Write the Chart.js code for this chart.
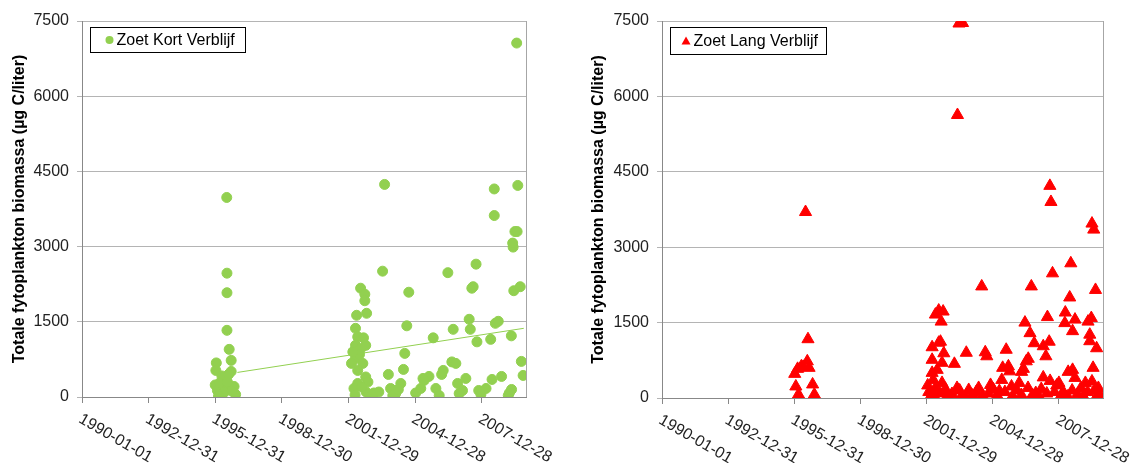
<!DOCTYPE html>
<html>
<head>
<meta charset="utf-8">
<script src="https://cdn.jsdelivr.net/npm/chart.js@4"></script>
<style>
  body { margin: 0; background: #fff; width: 1140px; height: 463px; overflow: hidden; }
  canvas { position: absolute; top: 0; }
</style>
</head>
<body>
<canvas id="kort" width="570" height="463" style="left:0"></canvas>
<canvas id="lang" width="570" height="463" style="left:570px"></canvas>
<script>
// x axis: decimal years, tick labels as printed
const tickYears = [1990, 1993, 1996, 1999, 2002, 2005, 2008];
const tickLabels = ['1990-01-01', '1992-12-31', '1995-12-31', '1998-12-30', '2001-12-29', '2004-12-28', '2007-12-28'];

// Zoet Kort Verblijf
const kortYears = [
  1996.52, 1996.53, 1996.53, 1996.53, 1996.63, 1996.72, 1996.72, 1996.05, 1996.03, 1996.30, 1996.00,
  1996.10, 1996.30, 1996.45, 1996.85, 1996.92, 1996.20, 1996.60, 1996.40, 1996.75, 1996.15, 1996.55,
  2003.63, 2003.54, 2002.55, 2002.74, 2002.74, 2002.37, 2002.82, 2002.32, 2002.42, 2002.32, 2002.78,
  2002.32, 2002.55, 2002.65, 2002.42, 2002.78, 2002.42, 2002.88, 2002.25, 2002.80, 2003.15, 2003.37,
  2003.80, 2003.90, 2004.13, 2004.36, 2004.48, 2004.54, 2004.63, 2004.72, 2005.03, 2005.36, 2002.14,
  2002.50, 2002.68, 2002.20, 2002.60, 2002.95, 2003.05, 2002.30, 2004.00, 2004.25,
  2008.57, 2008.57, 2006.48, 2007.75, 2007.62, 2007.56, 2007.44, 2007.49, 2006.72, 2005.82, 2007.79,
  2008.41, 2008.62, 2008.75, 2006.66, 2006.84, 2006.27, 2006.20, 2005.63, 2005.41, 2005.26, 2005.94,
  2006.09, 2006.92, 2007.29, 2007.14, 2006.99, 2007.87, 2008.20, 2008.47, 2007.97, 2008.90,
  2009.34, 2009.42, 2009.40, 2009.50, 2009.60, 2009.58, 2009.63, 2009.45, 2009.74, 2009.79, 2009.87,
  2009.20, 2009.35, 2009.25
];
const kortValues = [
  3980, 2470, 2080, 1330, 950, 730, 510, 680, 530, 420, 240,
  130, 60, 180, 210, 50, 280, 450, 90, 120, 20, 300,
  4240, 2510, 2170, 2050, 1920, 1630, 1670, 1370, 1200, 1030, 1030,
  770, 960, 670, 530, 400, 270, 300, 170, 100, 80, 100,
  450, 170, 70, 270, 550, 870, 1420, 2090, 80, 370, 670,
  850, 1180, 900, 200, 50, 30, 40, 30, 150,
  4150, 3620, 2480, 2650, 2200, 2170, 1550, 1350, 1350, 1180, 1100,
  1150, 1470, 1510, 700, 670, 530, 450, 410, 330, 170, 170,
  30, 270, 370, 130, 70, 130, 170, 350, 50, 410,
  1220, 2990, 3070, 3300, 3300, 7060, 4220, 2120, 2200, 710, 430,
  30, 150, 80
];
// linear trendline through Zoet Kort Verblijf
const trendYears = [1997.0, 2009.9];
const trendValues = [490, 1370];

// Zoet Lang Verblijf
const langYears = [
  1996.51, 1996.62, 1996.02, 1996.15, 1996.40, 1996.32, 1996.59, 1996.67, 1996.07, 1996.19, 1996.83, 1996.91,
  2003.47, 2003.63, 2003.40, 2002.55, 2002.75, 2002.66, 2002.40, 2002.63, 2002.25, 2002.78, 2002.25,
  2002.70, 2002.55, 2002.25, 2002.48, 2002.30, 2002.70, 2002.18, 2002.10, 2002.40, 2002.60, 2002.85,
  2002.95, 2003.26, 2003.80, 2003.38, 2003.15, 2003.60, 2003.91, 2003.75, 2004.05, 2004.36, 2004.50,
  2004.66, 2004.73, 2004.25, 2004.55, 2004.80, 2005.03, 2005.20, 2005.41, 2005.45, 2005.61, 2005.71,
  2005.77, 2005.55, 2005.90, 2006.10, 2006.31, 2006.39, 2006.46, 2006.52, 2006.61, 2006.69, 2006.75,
  2006.88, 2006.30, 2006.60, 2006.95, 2007.10, 2007.29, 2007.29, 2007.41, 2007.48, 2007.56, 2007.60,
  2007.59, 2007.64, 2007.71, 2007.80, 2007.90, 2008.00, 2008.10, 2008.27, 2008.29, 2008.42, 2008.49,
  2008.54, 2008.62, 2008.62, 2008.73, 2008.73, 2008.60, 2008.85, 2009.00, 2009.10, 2009.20, 2009.32,
  2009.40, 2009.40, 2009.47, 2009.50, 2009.58, 2009.55, 2009.50, 2009.66, 2009.71, 2009.79, 2009.75, 2009.30,
  2002.05, 2002.35, 2002.90, 2003.50, 2004.15, 2004.90, 2005.30, 2005.85, 2006.20, 2006.80, 2007.20, 2007.45,
  2008.20, 2008.40, 2009.60, 2009.85
];
const langValues = [
  3700, 1170, 480, 580, 620, 630, 730, 600, 230, 70, 270, 70,
  7450, 7460, 5630, 1740, 1720, 1520, 1660, 1120, 1010, 890, 760,
  700, 1100, 500, 560, 360, 300, 30, 120, 200, 100, 180,
  40, 680, 900, 200, 80, 50, 160, 30, 60, 200, 2220,
  910, 830, 120, 40, 90, 170, 50, 360, 600, 960, 630,
  530, 120, 40, 150, 520, 580, 1500, 730, 780, 1290, 2220,
  1090, 60, 200, 100, 30, 1030, 410, 830, 1610, 1120, 340,
  4220, 3900, 2480, 120, 250, 300, 50, 1490, 1700, 520, 2000,
  2680, 1330, 560, 1560, 400, 150, 80, 200, 40, 300, 1520,
  1260, 1130, 1590, 3470, 3350, 600, 330, 2150, 990, 200, 60, 120,
  250, 40, 90, 150, 30, 260, 140, 230, 300, 60, 180, 90,
  120, 30, 150, 90
];

const FONT = 'Arial, "Liberation Sans", sans-serif';
const GREEN = '#92d050';
const RED = '#ff0000';
const yTitle = 'Totale fytoplankton biomassa (µg C/liter)';

const toPoints = (xs, ys) => xs.map((x, i) => ({ x: x, y: ys[i] }));

// draws right frame edge, the rotated date labels and the in-plot legend box
const decorations = {
  id: 'decorations',
  afterDraw(chart, args, opts) {
    const { ctx, chartArea: a } = chart;
    const xs = chart.scales.x;
    ctx.save();
    ctx.strokeStyle = '#a6a6a6';
    ctx.lineWidth = 1;
    ctx.beginPath();
    ctx.moveTo(Math.round(a.right) + 0.5, a.top);
    ctx.lineTo(Math.round(a.right) + 0.5, a.bottom);
    ctx.stroke();

    ctx.fillStyle = '#222';
    ctx.font = '16px ' + FONT;
    ctx.textAlign = 'left';
    ctx.textBaseline = 'middle';
    tickYears.forEach((t, i) => {
      ctx.save();
      ctx.translate(xs.getPixelForValue(t) - 2, a.bottom + 21);
      ctx.rotate(Math.PI / 6);
      ctx.fillText(tickLabels[i], 0, 0);
      ctx.restore();
    });

    const bx = Math.round(a.left + opts.dx) + 0.5;
    const by = Math.round(a.top + opts.dy) + 0.5;
    ctx.fillStyle = '#fff';
    ctx.fillRect(bx, by, opts.w, opts.h);
    ctx.strokeStyle = '#000';
    ctx.strokeRect(bx, by, opts.w, opts.h);
    const my = by + opts.h / 2;
    ctx.fillStyle = opts.color;
    ctx.beginPath();
    if (opts.marker === 'circle') {
      ctx.arc(bx + opts.mx, my, 4, 0, Math.PI * 2);
    } else {
      ctx.moveTo(bx + opts.mx, my - 4.5);
      ctx.lineTo(bx + opts.mx + 4.5, my + 3.5);
      ctx.lineTo(bx + opts.mx - 4.5, my + 3.5);
      ctx.closePath();
    }
    ctx.fill();
    ctx.fillStyle = '#000';
    ctx.font = '16px ' + FONT;
    ctx.fillText(opts.label, bx + opts.tx, my + 1);
    ctx.restore();
  }
};

function makeChart(id, datasets, dims, legend) {
  return new Chart(document.getElementById(id), {
    type: 'scatter',
    data: { datasets: datasets },
    options: {
      responsive: false,
      animation: false,
      layout: { padding: { top: dims.top, right: dims.right, left: 0, bottom: 0 } },
      plugins: {
        legend: { display: false },
        tooltip: { enabled: false },
        decorations: legend
      },
      scales: {
        x: {
          type: 'linear',
          min: 1990,
          max: 2010,
          afterBuildTicks: s => { s.ticks = tickYears.map(v => ({ value: v })); },
          afterFit: s => { s.height = dims.bottom; },
          ticks: { display: false },
          grid: { drawOnChartArea: false, tickLength: 6, color: '#888' },
          border: { color: '#888' }
        },
        y: {
          min: 0,
          max: 7500,
          afterFit: s => { s.width = dims.left; },
          ticks: {
            stepSize: 1500,
            color: '#222',
            padding: 8,
            font: { size: 16, family: FONT },
            callback: v => String(v)
          },
          grid: { color: '#b4b4b4', tickLength: 5, drawTicks: true },
          border: { color: '#888' },
          title: {
            display: true,
            text: yTitle,
            color: '#000',
            padding: { top: dims.titlePad, bottom: 0 },
            font: { size: 16, weight: 'bold', family: FONT }
          }
        }
      }
    },
    plugins: [decorations]
  });
}

makeChart('kort', [
  {
    type: 'line',
    data: toPoints(trendYears, trendValues),
    borderColor: GREEN,
    borderWidth: 1,
    pointRadius: 0,
    fill: false
  },
  {
    label: 'Zoet Kort Verblijf',
    data: toPoints(kortYears, kortValues),
    pointStyle: 'circle',
    pointRadius: 5,
    borderWidth: 1,
    backgroundColor: GREEN,
    borderColor: GREEN
  }
], { top: 21, right: 44, bottom: 66, left: 82, titlePad: 10 },
   { label: 'Zoet Kort Verblijf', marker: 'circle', color: GREEN, dx: 8, dy: 5.5, w: 155, h: 25, mx: 19, tx: 26 });

makeChart('lang', [
  {
    label: 'Zoet Lang Verblijf',
    data: toPoints(langYears, langValues),
    pointStyle: 'triangle',
    pointRadius: 7,
    borderWidth: 1,
    backgroundColor: RED,
    borderColor: RED
  }
], { top: 21, right: 37, bottom: 65, left: 92, titlePad: 19 },
   { label: 'Zoet Lang Verblijf', marker: 'triangle', color: RED, dx: 8, dy: 6, w: 156, h: 27, mx: 15.5, tx: 23 });
</script>
</body>
</html>
